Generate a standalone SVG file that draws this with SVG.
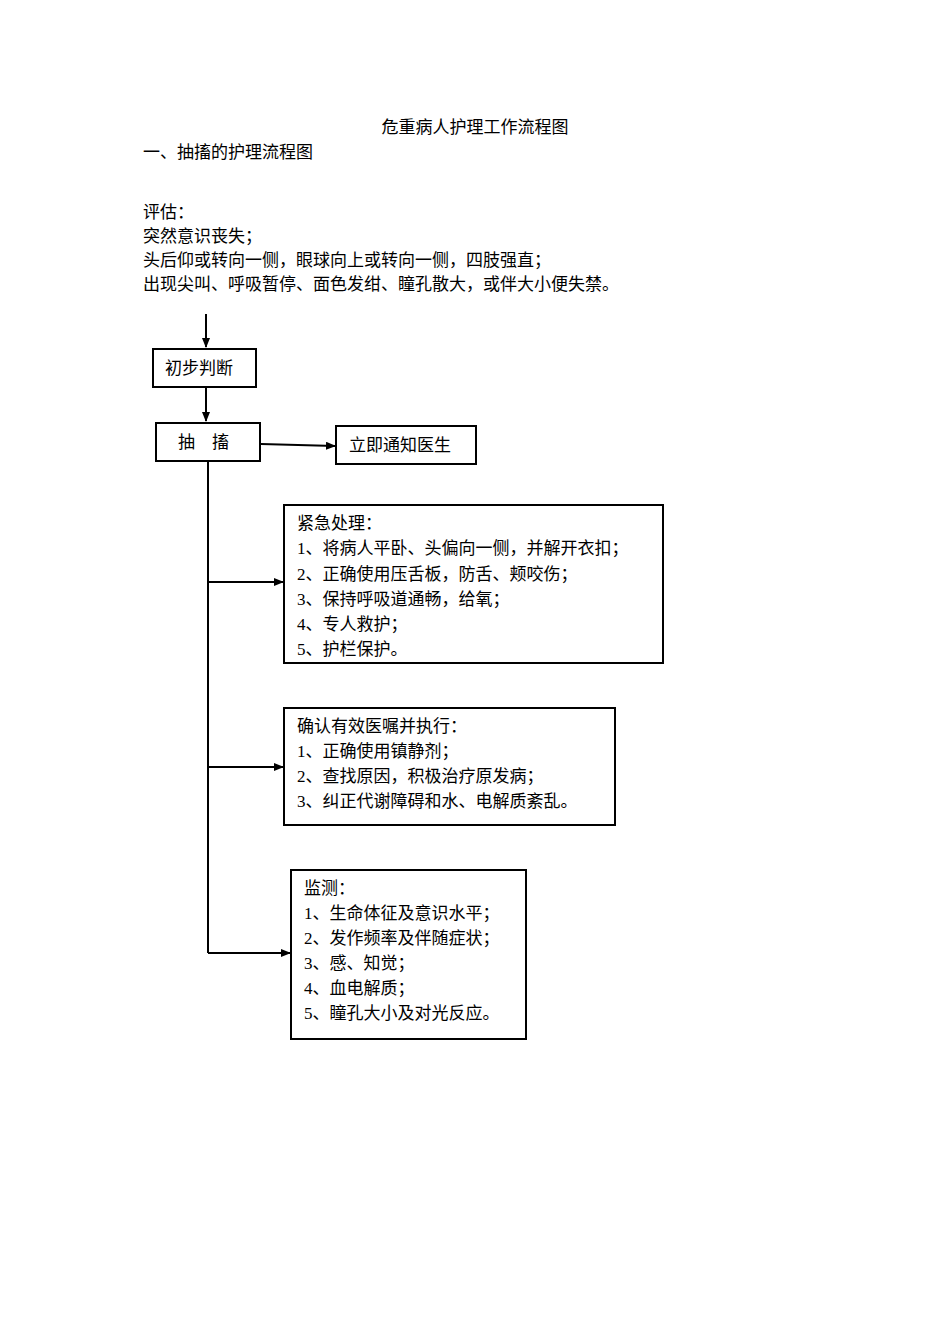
<svg xmlns="http://www.w3.org/2000/svg" width="950" height="1344" viewBox="0 0 950 1344">
<style>
text{font-family:"Liberation Serif","Noto Sans CJK SC",serif;font-size:17px;fill:#000}
.b{fill:#fff;stroke:#000;stroke-width:2}
.c{stroke:#000;stroke-width:2;fill:none}
</style>
<defs><marker id="a" markerWidth="10" markerHeight="8" refX="9" refY="4" orient="auto" markerUnits="userSpaceOnUse"><path d="M0,0L10,4L0,8z"/></marker></defs>
<rect width="950" height="1344" fill="#fff"/>
<text x="475" y="133" text-anchor="middle">危重病人护理工作流程图</text>
<text x="143" y="158">一、抽搐的护理流程图</text>
<text x="143" y="218">评估：</text>
<text x="143" y="242">突然意识丧失；</text>
<text x="143" y="266">头后仰或转向一侧，眼球向上或转向一侧，四肢强直；</text>
<text x="143" y="290">出现尖叫、呼吸暂停、面色发绀、瞳孔散大，或伴大小便失禁。</text>
<g id="connectors">
<path class="c" d="M206,314V347" marker-end="url(#a)"/>
<path class="c" d="M206,387V421" marker-end="url(#a)"/>
<path class="c" d="M261,444L335,446" marker-end="url(#a)"/>
<path class="c" d="M208,461V953"/>
<path class="c" d="M208,582H283" marker-end="url(#a)"/>
<path class="c" d="M208,767H283" marker-end="url(#a)"/>
<path class="c" d="M208,953H290" marker-end="url(#a)"/>
</g>
<g id="n1"><rect class="b" x="153" y="349" width="103" height="38"/><text x="165" y="374">初步判断</text></g>
<g id="n2"><rect class="b" x="156" y="423" width="104" height="38"/><text x="178" y="448">抽　搐</text></g>
<g id="n3"><rect class="b" x="336" y="426" width="140" height="38"/><text x="349" y="451">立即通知医生</text></g>
<g id="n4"><rect class="b" x="284" y="505" width="379" height="158"/>
<text x="297" y="529">紧急处理：</text>
<text x="297" y="554">1、将病人平卧、头偏向一侧，并解开衣扣；</text>
<text x="297" y="580">2、正确使用压舌板，防舌、颊咬伤；</text>
<text x="297" y="605">3、保持呼吸道通畅，给氧；</text>
<text x="297" y="630">4、专人救护；</text>
<text x="297" y="655">5、护栏保护。</text></g>
<g id="n5"><rect class="b" x="284" y="708" width="331" height="117"/>
<text x="297" y="732">确认有效医嘱并执行：</text>
<text x="297" y="757">1、正确使用镇静剂；</text>
<text x="297" y="782">2、查找原因，积极治疗原发病；</text>
<text x="297" y="807">3、纠正代谢障碍和水、电解质紊乱。</text></g>
<g id="n6"><rect class="b" x="291" y="870" width="235" height="169"/>
<text x="304" y="894">监测：</text>
<text x="304" y="919">1、生命体征及意识水平；</text>
<text x="304" y="944">2、发作频率及伴随症状；</text>
<text x="304" y="969">3、感、知觉；</text>
<text x="304" y="994">4、血电解质；</text>
<text x="304" y="1019">5、瞳孔大小及对光反应。</text></g>
</svg>
